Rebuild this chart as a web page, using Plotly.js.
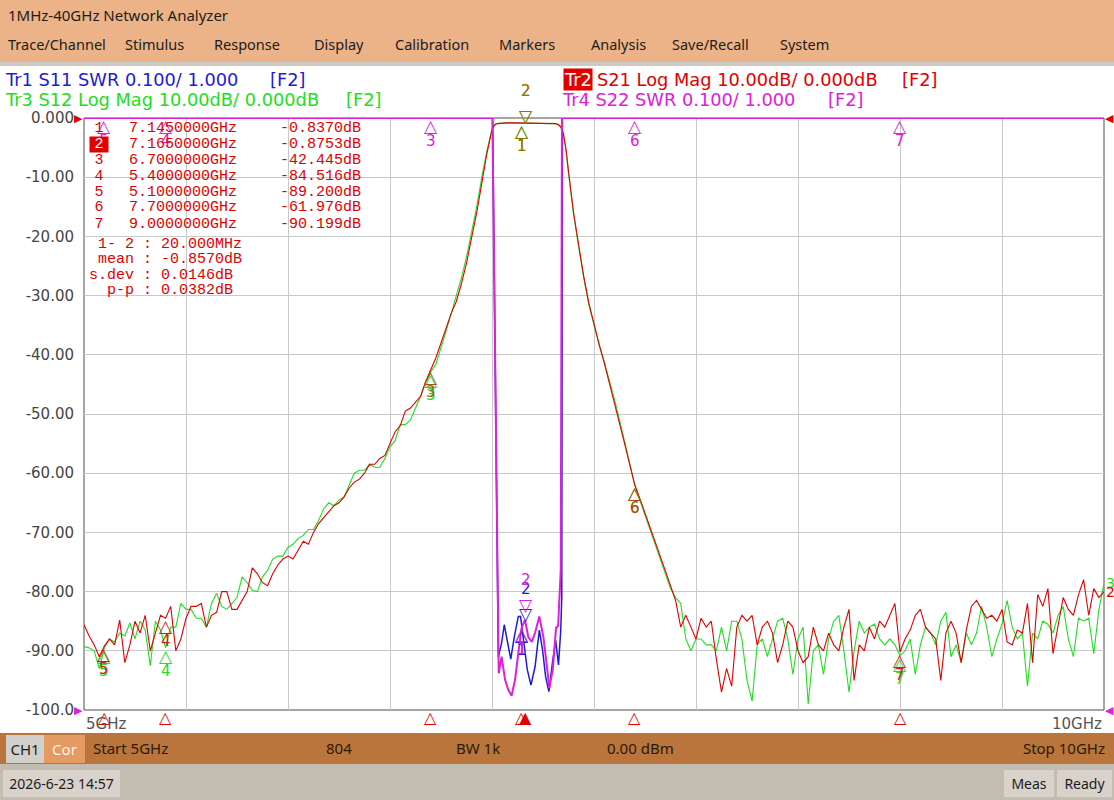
<!DOCTYPE html>
<html>
<head>
<meta charset="utf-8">
<script src="https://cdn.plot.ly/plotly-3.0.1.min.js"></script>
<style>
  html, body { margin:0; padding:0; width:1114px; height:800px; overflow:hidden; background:#ffffff; }
  body { position:relative; font-family:"Noto Sans", "Open Sans", sans-serif; }
  #top { position:absolute; left:0; top:0; width:1114px; height:62px; background:#EBB387; }
  #title { position:absolute; left:8px; top:5px; font-size:15px; color:#1c1c1c; line-height:20px; }
  .menu { position:absolute; top:34px; font-size:14.5px; color:#1c1c1c; line-height:20px; }
  #sep { position:absolute; left:0; top:62px; width:1114px; height:4px; background:#CCC8C4; }
  #chart { position:absolute; left:0; top:66px; width:1114px; height:666px; }
  #status { position:absolute; left:0; top:733px; width:1114px; height:31px; background:#B9753B; }
  .sbox { position:absolute; top:2px; height:28px; line-height:28px; text-align:center; font-size:15px; }
  .stxt { position:absolute; top:0; height:31px; line-height:31px; font-size:15px; color:#2a1a0c; }
  #bottom { position:absolute; left:0; top:764px; width:1114px; height:36px; background:#C3BCB1; }
  .bbox { position:absolute; top:6px; height:27px; line-height:27px; background:#D8D2CA; text-align:center; font-size:14px; color:#1c1c1c; }
</style>
</head>
<body>
<div id="top">
  <div id="title">1MHz-40GHz Network Analyzer</div>
</div>
<div id="sep"></div>
<div id="chart"></div>
<div id="status"></div>
<div id="bottom"></div>

<script>
// ---------------- DATA ----------------
const MENU_ITEMS = ['Trace/Channel','Stimulus','Response','Display','Calibration','Markers','Analysis','Save/Recall','System'];

const START_GHZ = 5.0;
const STOP_GHZ = 10.0;
const SWEEP_POINTS = 804;
const IF_BW = '1k';
const POWER_DBM = 0.00;
const DATE_TEXT = '2026-6-23 14:57';

const STEP_GHZ = 0.025;
const LOW_START_GHZ = 5.0;    // first grid point of the lower segment
const HIGH_START_GHZ = 7.4;   // first grid point of the upper segment

// S21 (Tr2, red) dB, 5.000 .. 6.975 GHz
const S21_LOW = [-85.6,-87.5,-89,-91,-89.2,-88,-89,-84.8,-92,-89,-85,-87,-84,-90,-87,-84,-84.5,-82.5,-90,-88,
  -84.5,-82.5,-82.5,-82,-86,-84,-83.5,-80,-80,-83,-83,-81.5,-80,-76,-77,-78.5,-79,-77,-75.5,-74.5,
  -74,-74.5,-73,-71.5,-72,-70,-68.5,-67.5,-66.5,-65.5,-65,-64,-62.5,-61.5,-61,-60,-58.5,-58.5,-57.5,-57,
  -55,-53,-52,-49.5,-49,-48,-47,-44.5,-42.4,-40.5,-38,-35.5,-33,-31,-28,-24.5,-20.5,-16,-11,-6];
// passband detail
const BAND_FREQ = [7.0,7.0125,7.025,7.05,7.075,7.1,7.125,7.145,7.165,7.2,7.225,7.25,7.275,7.3,7.3125,7.325,7.3375,7.35,7.3625,7.375,7.3875];
const S21_BAND = [-2.0,-1.2,-0.95,-0.85,-0.82,-0.82,-0.83,-0.837,-0.875,-0.85,-0.84,-0.83,-0.84,-0.88,-0.95,-1.1,-1.5,-2.6,-5.2,-9.0,-12.5];
// 7.400 .. 10.000 GHz
const S21_HIGH = [-16,-21.5,-26.8,-31.3,-35,-38.2,-41.3,-44.6,-48,-51.6,-55,-58.6,-62,-64.3,-66.7,-69,-71.5,-74,-76.5,-79,-81.5,-86,-84,-86,
  -88,-84.5,-86,-85,-91.5,-97,-93,-96,-86,-84,-85,-84,-89,-86,-85,-87,-92,-89,-85,-86,
  -90,-92,-91,-86,-89,-90,-87,-89,-90,-86,-83,-95,-89,-90,-86,-88,-85,-86,-84,-82,
  -90.2,-88,-86.5,-84,-83,-86,-87,-88,-95,-87,-85,-87,-92,-86.5,-82.5,-81.5,-83,-84.5,-84,-85,
  -83,-88.5,-89,-86.5,-87,-82,-92,-80.5,-82.5,-79.5,-90.5,-86,-81,-83,-84,-80.5,-78,-84,-79.5,-81,
  -80];

// S12 (Tr3, green) dB
const S12_LOW = [-89.3,-89.5,-90,-93,-89.5,-88,-88.5,-87,-87.5,-85.3,-88,-85,-86.5,-92.5,-85,-86.5,-89.5,-86,-86,-82,
  -83,-83,-84.5,-84.5,-86,-82,-80.3,-82.5,-83,-82,-81,-77.5,-78.5,-79.8,-80,-77.5,-76.4,-74.5,-74,-74,
  -72.5,-72,-71,-70.5,-69.5,-69.5,-68,-66,-65,-65.5,-64.5,-64,-62,-60,-59.5,-59.5,-58.5,-59,-59,-57.5,
  -55.5,-54.5,-51.8,-51.8,-51,-49,-47,-44.6,-42.9,-41.6,-39,-36,-33,-30,-27,-23.5,-19.5,-15,-10,-5.5];
const S12_BAND = [-1.8,-1.1,-0.92,-0.84,-0.82,-0.83,-0.84,-0.85,-0.87,-0.86,-0.84,-0.84,-0.85,-0.9,-0.97,-1.15,-1.6,-2.8,-5.4,-9.3,-12.8];
const S12_HIGH = [-16.3,-21.8,-27.1,-31.6,-35.2,-38.3,-41.2,-44.3,-47.5,-51,-54.5,-58.3,-62,-64.6,-67,-69.5,-72,-74.5,-77,-79.5,-81,-82,-88,-90,
  -88,-88,-89,-89,-90,-86,-90,-85,-85,-88,-95,-98.5,-89,-88,-91,-88,-85,-84.5,-88,-94,
  -88,-86,-99,-90,-89,-94,-88,-85,-84,-90,-97,-90,-85,-87,-86,-85.5,-88,-89,-88,-89,
  -90.8,-90,-88,-94,-89,-86,-87,-89,-85,-83.5,-91,-89,-92,-87,-89,-87,-82.5,-86,-91,-88,
  -85.5,-81.5,-86,-88,-87,-96,-87,-88,-85,-85.5,-87,-84,-82.5,-88,-91,-84.5,-85,-84.5,-90.5,-83,
  -78.6];

// S11 (Tr1, blue) SWR ; 2.0 = off-scale (drawn on top edge of grid)
const S11_FREQ = [5.0,7.003,7.031,7.047,7.060,7.075,7.092,7.109,7.129,7.140,7.153,7.173,7.191,7.211,7.232,7.248,7.263,7.279,7.296,7.312,7.326,7.337,7.342,7.345,10.0];
const S11_SWR  = [2.0,2.0,1.090,1.113,1.144,1.118,1.086,1.123,1.158,1.158,1.124,1.068,1.042,1.073,1.135,1.101,1.056,1.031,1.079,1.118,1.076,1.135,1.19,2.0,2.0];
// S22 (Tr4, magenta) SWR
const S22_FREQ = [5.0,7.002,7.033,7.047,7.064,7.080,7.096,7.113,7.129,7.145,7.162,7.178,7.195,7.211,7.232,7.252,7.271,7.281,7.298,7.314,7.324,7.330,7.337,7.343,10.0];
const S22_SWR  = [2.0,2.0,1.062,1.090,1.051,1.034,1.024,1.051,1.096,1.139,1.152,1.123,1.115,1.130,1.158,1.123,1.068,1.037,1.068,1.139,1.142,1.186,1.236,2.0,2.0];

// markers
const MARKER_NUM = ['1','2','3','4','5','6','7'];
const MARKER_FREQ_GHZ = [7.145,7.165,6.7,5.4,5.1,7.7,9.0];
const MARKER_S21_DB = [-0.8370,-0.8753,-42.445,-84.516,-89.200,-61.976,-90.199];
const MARKER_S12_DB = [-0.85,-0.88,-42.9,-89.5,-89.5,-62.0,-90.8];
const MARKER_S22_SWR = [1.142,1.165,null,null,null,null,null];   // null = off-scale high
const MARKER_S11_SWR = [1.14,1.15,null,null,null,null,null];
const ACTIVE_MARKER = 1;  // index of marker 2

const STAT_LABELS = ['1- 2','mean','s.dev','p-p'];
const STAT_TEXT = ['20.000MHz','-0.8570dB','0.0146dB','0.0382dB'];

const Y_TICK_VALS = [0,-10,-20,-30,-40,-50,-60,-70,-80,-90,-100];
const Y_TICK_TEXT = ['0.000','-10.00','-20.00','-30.00','-40.00','-50.00','-60.00','-70.00','-80.00','-90.00','-100.0'];

const HEADER = [
  {tr:'Tr1', text:'S11 SWR 0.100/ 1.000'},
  {tr:'Tr2', text:'S21 Log Mag 10.00dB/ 0.000dB'},
  {tr:'Tr3', text:'S12 Log Mag 10.00dB/ 0.000dB'},
  {tr:'Tr4', text:'S22 SWR 0.100/ 1.000'}
];
const CHANNEL_TAG = '[F2]';

const REF_DB = 0;       // log mag reference level (top)
const REF_SWR = 1.0;    // SWR reference (bottom)
const SWR_TOP = 2.0;

// ---------------- STYLE ----------------
const COL = {S11:'#1c1cd4', S21:'#e00000', S12:'#22dd22', S22:'#dc20dc'};
const S21_MARK_COL = ['#8c7400','#b86400','#9a6010','#d41c1c','#d41c1c','#c04018','#d41c1c'];
const UI = 'DejaVu Sans, Verdana, sans-serif';
const MONO = 'Liberation Mono, DejaVu Sans Mono, monospace';
const TRI = 'DejaVu Sans, sans-serif';
const HEAD_SIZE = 17.8;
const TRI_SIZE = 17;

// ---------------- CHROME (HTML) ----------------
const menuX = [8,125,214,314,395,499,591,672,780];
const topDiv = document.getElementById('top');
MENU_ITEMS.forEach((m,i)=>{
  const d = document.createElement('div'); d.className='menu'; d.style.left = menuX[i]+'px'; d.textContent = m; topDiv.appendChild(d);
});
const st = document.getElementById('status');
st.innerHTML =
  '<div class="sbox" style="left:6px;width:38px;background:#D3CFCB;color:#1c1c1c">CH1</div>' +
  '<div class="sbox" style="left:44px;width:41px;background:#E39A63;color:#fff4ea">Cor</div>' +
  '<div class="stxt" style="left:93px">Start ' + START_GHZ.toFixed(0) + 'GHz</div>' +
  '<div class="stxt" style="left:326px">' + SWEEP_POINTS + '</div>' +
  '<div class="stxt" style="left:456px">BW ' + IF_BW + '</div>' +
  '<div class="stxt" style="left:607px">' + POWER_DBM.toFixed(2) + ' dBm</div>' +
  '<div class="stxt" style="right:9px">Stop ' + STOP_GHZ.toFixed(0) + 'GHz</div>';
document.getElementById('bottom').innerHTML =
  '<div class="bbox" style="left:3px;width:117px">' + DATE_TEXT + '</div>' +
  '<div class="bbox" style="left:1004px;width:50px">Meas</div>' +
  '<div class="bbox" style="left:1057px;width:55px">Ready</div>';

// ---------------- TRACES ----------------
const grid = (start, n) => Array.from({length:n}, (_,i)=> +(start + i*STEP_GHZ).toFixed(4));
const fS21 = grid(LOW_START_GHZ, S21_LOW.length).concat(BAND_FREQ, grid(HIGH_START_GHZ, S21_HIGH.length));
const yS21 = S21_LOW.concat(S21_BAND, S21_HIGH);
const fS12 = grid(LOW_START_GHZ, S12_LOW.length).concat(BAND_FREQ, grid(HIGH_START_GHZ, S12_HIGH.length));
const yS12 = S12_LOW.concat(S12_BAND, S12_HIGH);

const traces = [
  {x:fS12, y:yS12, type:'scatter', mode:'lines', line:{color:COL.S12, width:1.1}, xaxis:'x', yaxis:'y'},
  {x:fS21, y:yS21, type:'scatter', mode:'lines', line:{color:COL.S21, width:1.1}, xaxis:'x', yaxis:'y'},
  {x:S11_FREQ, y:S11_SWR, type:'scatter', mode:'lines', line:{color:COL.S11, width:1.5}, xaxis:'x', yaxis:'y2'},
  {x:S22_FREQ, y:S22_SWR, type:'scatter', mode:'lines', line:{color:COL.S22, width:2}, xaxis:'x', yaxis:'y2'}
];

// ---------------- ANNOTATIONS ----------------
const L = 84, R = 10, T = 52, B = 22, W = 1114, H = 666;
const PW = W - L - R, PH = H - T - B;
const PAGE_TOP = 66;
// layout helper: page pixel -> paper coordinate (text placement only)
const P = (px, py) => ({x:(px - L)/PW, y:((PAGE_TOP + T + PH) - py)/PH, xref:'paper', yref:'paper'});

const ann = [];
function txt(px, py, text, color, opts) {
  ann.push(Object.assign(P(px, py), {text, showarrow:false, yanchor:'middle', xanchor:'left',
    font:{family:UI, size:HEAD_SIZE, color}}, opts || {}));
}
// header lines
txt(3, 80, HEADER[0].tr + ' ' + HEADER[0].text, COL.S11);
txt(268, 80, CHANNEL_TAG, COL.S11);
txt(3, 100, HEADER[2].tr + ' ' + HEADER[2].text, COL.S12);
txt(344, 100, CHANNEL_TAG, COL.S12);
txt(563, 80, HEADER[1].tr, '#ffffff', {bgcolor:COL.S21, borderpad:0});
txt(595, 80, HEADER[1].text, COL.S21);
txt(900, 80, CHANNEL_TAG, COL.S21);
txt(560, 100, HEADER[3].tr + ' ' + HEADER[3].text, COL.S22);
txt(826, 100, CHANNEL_TAG, COL.S22);

// marker symbols drawn at data values
function addMarker(x, y, yref, label, color, active) {
  if (active) {
    ann.push({x, y, xref:'x', yref, text:'▽', showarrow:false, yanchor:'bottom', yshift:-5, font:{family:TRI, size:TRI_SIZE, color}});
    ann.push({x, y, xref:'x', yref, text:label, showarrow:false, yanchor:'bottom', yshift:21, font:{family:UI, size:15, color}});
  } else {
    ann.push({x, y, xref:'x', yref, text:'△', showarrow:false, yanchor:'top', yshift:4, font:{family:TRI, size:TRI_SIZE, color}});
    ann.push({x, y, xref:'x', yref, text:label, showarrow:false, yanchor:'top', yshift:-12, font:{family:UI, size:15, color}});
  }
}
// S11 / S22 markers (off-scale ones sit on the top edge)
MARKER_NUM.forEach((m,i)=>{
  const v = MARKER_S11_SWR[i];
  if (v !== null) addMarker(MARKER_FREQ_GHZ[i], v, 'y2', m, COL.S11, i===ACTIVE_MARKER);
});
MARKER_NUM.forEach((m,i)=>{
  const v = MARKER_S22_SWR[i];
  addMarker(MARKER_FREQ_GHZ[i], v === null ? SWR_TOP : v, 'y2', m, COL.S22, v !== null && i===ACTIVE_MARKER);
});
// S12 then S21 markers
MARKER_NUM.forEach((m,i)=> addMarker(MARKER_FREQ_GHZ[i], MARKER_S12_DB[i], 'y', m, COL.S12, i===ACTIVE_MARKER));
MARKER_NUM.forEach((m,i)=> addMarker(MARKER_FREQ_GHZ[i], MARKER_S21_DB[i], 'y', m, S21_MARK_COL[i], i===ACTIVE_MARKER));

// marker position indicators under the frequency axis (active trace S21)
MARKER_NUM.forEach((m,i)=>{
  ann.push({x:MARKER_FREQ_GHZ[i], y:-100, xref:'x', yref:'y', text: i===ACTIVE_MARKER ? '▲' : '△',
    showarrow:false, yanchor:'top', yshift:4, font:{family:TRI, size:16, color:COL.S21}});
});

// reference position triangles
ann.push({x:START_GHZ, y:REF_DB, xref:'x', yref:'y', text:'▶', showarrow:false, xanchor:'right', xshift:1, font:{family:TRI, size:11, color:COL.S21}});
ann.push({x:START_GHZ, y:REF_SWR, xref:'x', yref:'y2', text:'▶', showarrow:false, xanchor:'right', xshift:1, font:{family:TRI, size:11, color:COL.S22}});
ann.push({x:STOP_GHZ, y:REF_SWR, xref:'x', yref:'y2', text:'◀', showarrow:false, xanchor:'left', xshift:-1, font:{family:TRI, size:11, color:COL.S22}});
ann.push({x:STOP_GHZ, y:REF_DB, xref:'x', yref:'y', text:'◀', showarrow:false, xanchor:'left', xshift:-1, font:{family:TRI, size:11, color:COL.S21}});

// trace numbers at right end
ann.push({x:fS12[fS12.length-1], y:yS12[yS12.length-1], xref:'x', yref:'y', text:'3', showarrow:false, xanchor:'left', font:{family:UI, size:14, color:COL.S12}});
ann.push({x:fS21[fS21.length-1], y:yS21[yS21.length-1], xref:'x', yref:'y', text:'2', showarrow:false, xanchor:'left', font:{family:UI, size:14, color:COL.S21}});

// marker table
const fmtDb = v => (Math.abs(v) < 10 ? v.toFixed(4) : v.toFixed(3)) + 'dB';
MARKER_NUM.forEach((m,i)=>{
  const py = 128 + i*16;
  const active = i === ACTIVE_MARKER;
  ann.push(Object.assign(P(99, py), {text:m, showarrow:false, xanchor:'center', yanchor:'middle',
    font:{family:MONO, size:15, color: active ? '#ffffff' : COL.S21},
    bgcolor: active ? COL.S21 : 'rgba(0,0,0,0)', borderpad:0, width:18, height:15}));
  ann.push(Object.assign(P(127, py), {text:MARKER_FREQ_GHZ[i].toFixed(7) + 'GHz', showarrow:false, xanchor:'left', yanchor:'middle',
    font:{family:MONO, size:15, color:COL.S21}}));
  ann.push(Object.assign(P(363, py), {text:fmtDb(MARKER_S21_DB[i]), showarrow:false, xanchor:'right', yanchor:'middle',
    font:{family:MONO, size:15, color:COL.S21}}));
});
STAT_LABELS.forEach((s,i)=>{
  ann.push(Object.assign(P(87, 244 + i*15.5), {text: s.padStart(5,' ') + ' : ' + STAT_TEXT[i], showarrow:false,
    xanchor:'left', yanchor:'middle', font:{family:MONO, size:15, color:COL.S21}}));
});

// frequency labels
ann.push({x:START_GHZ, y:0, xref:'x', yref:'paper', text:START_GHZ.toFixed(0)+'GHz', showarrow:false, xanchor:'left', yanchor:'top', yshift:-3, font:{family:UI, size:15, color:'#555555'}});
ann.push({x:STOP_GHZ, y:0, xref:'x', yref:'paper', text:STOP_GHZ.toFixed(0)+'GHz', showarrow:false, xanchor:'right', yanchor:'top', yshift:-3, font:{family:UI, size:15, color:'#555555'}});

const layout = {
  width:W, height:H,
  margin:{l:L, r:R, t:T, b:B, pad:0},
  paper_bgcolor:'#ffffff', plot_bgcolor:'#ffffff',
  showlegend:false,
  xaxis:{range:[START_GHZ, STOP_GHZ], tick0:START_GHZ, dtick:0.5, showgrid:true, gridcolor:'#c9c9c9', gridwidth:1,
    showticklabels:false, ticks:'', zeroline:false, showline:false, fixedrange:true},
  yaxis:{range:[-100, 0], tickvals:Y_TICK_VALS, ticktext:Y_TICK_TEXT, showgrid:true, gridcolor:'#c9c9c9', gridwidth:1,
    ticks:'', ticklabelstandoff:9, tickfont:{family:UI, size:15, color:'#454545'}, zeroline:false, showline:false, fixedrange:true},
  yaxis2:{range:[REF_SWR, SWR_TOP], overlaying:'y', visible:false, fixedrange:true},
  shapes:[{type:'rect', xref:'paper', yref:'paper', x0:0, x1:1, y0:0, y1:1, line:{color:'#4d4d4d', width:1}, layer:'between'}],
  annotations:ann
};

Plotly.newPlot('chart', traces, layout, {staticPlot:true, displayModeBar:false});
</script>
</body>
</html>
